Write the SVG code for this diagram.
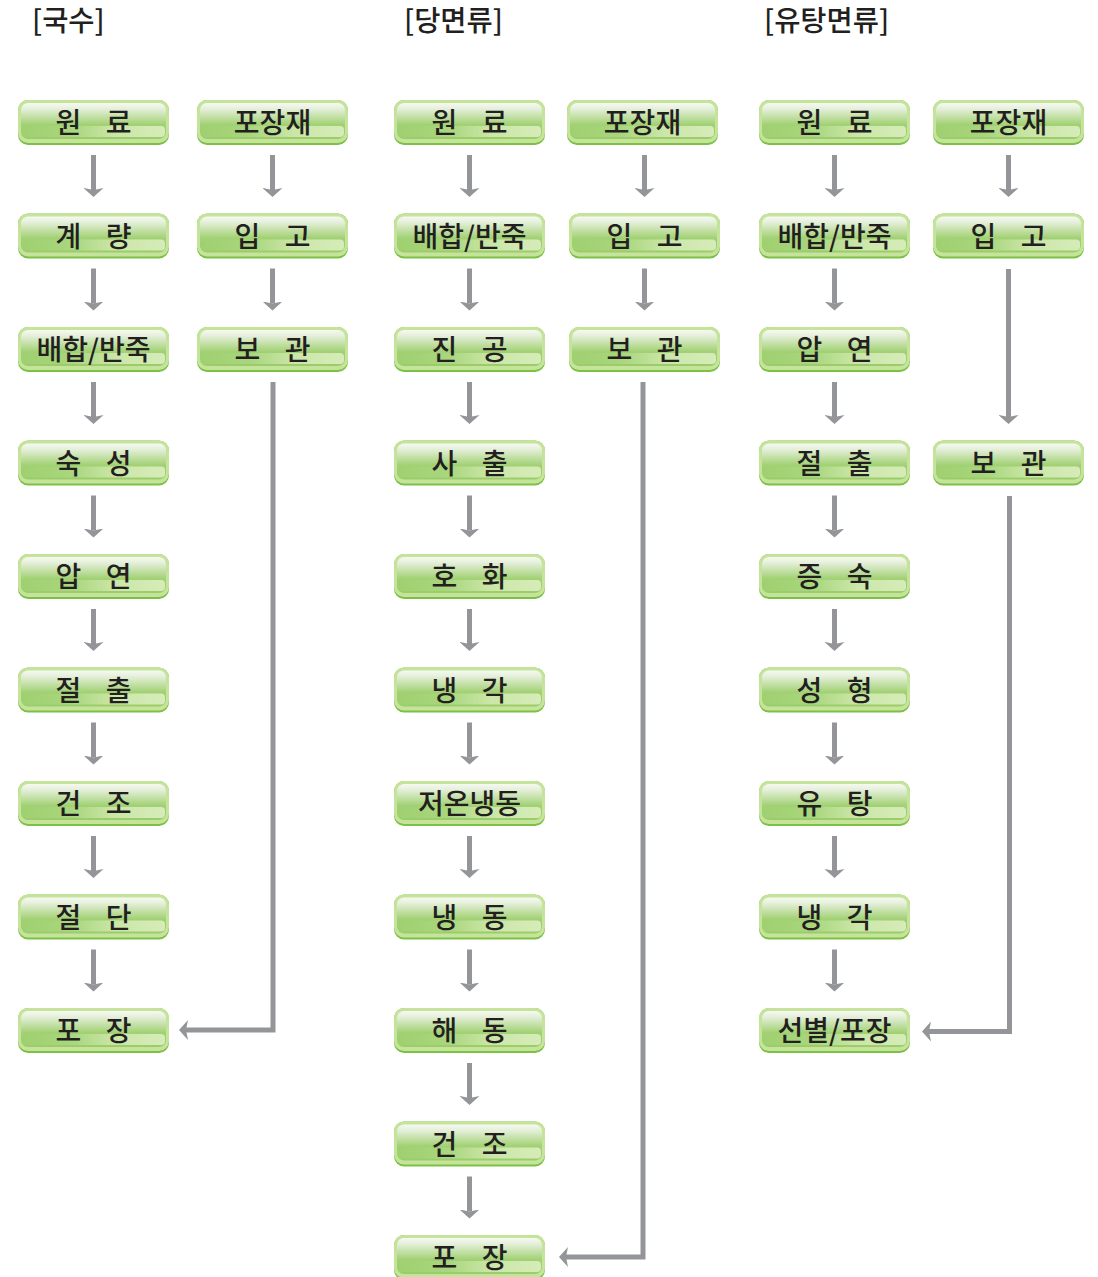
<svg xmlns="http://www.w3.org/2000/svg" width="1098" height="1277" viewBox="0 0 1098 1277">
<style>
.base{fill:#7bc143}
.rim{fill:#c6e39b}
.body{fill:url(#gv)}
.band{fill:url(#gh)}
.lbl{font-family:"Noto Sans CJK KR","Noto Sans",sans-serif;font-size:28px;font-weight:500;fill:#231f20;text-anchor:middle;word-spacing:18px}
.ttl{font-family:"Noto Sans CJK KR","Noto Sans",sans-serif;font-size:28.5px;font-weight:500;fill:#231f20}
.conn path{fill:none;stroke:#939598;stroke-width:5;marker-end:url(#ah)}
</style>
<defs>
<linearGradient id="gv" x1="0" y1="0" x2="0" y2="1">
<stop offset="0" stop-color="#f6f9f1"/>
<stop offset="0.15" stop-color="#e6f0dc"/>
<stop offset="0.6" stop-color="#a2d174"/>
<stop offset="1" stop-color="#9acd69"/>
</linearGradient>
<linearGradient id="gh" x1="0" y1="0" x2="1" y2="0">
<stop offset="0" stop-color="#9fd070"/>
<stop offset="0.35" stop-color="#a9d67e"/>
<stop offset="0.65" stop-color="#cbe6a8"/>
<stop offset="1" stop-color="#d6ecb9"/>
</linearGradient>
<marker id="ah" markerUnits="userSpaceOnUse" markerWidth="10" markerHeight="20" viewBox="0 0 10 20" refX="2" refY="10" orient="auto">
<path d="M0,0 L9,10 L0,20 L2,10 z" fill="#939598"/>
</marker>
<g id="nb">
<rect class="base" width="151" height="45" rx="10"/>
<rect class="rim" width="151" height="43" rx="10"/>
<rect class="body" x="3" y="3" width="145" height="36" rx="7"/>
<rect class="band" x="4" y="26" width="143" height="11" rx="4"/>
</g>
</defs>

<text class="ttl" x="32" y="31">[국수]</text>
<text class="ttl" x="404" y="31">[당면류]</text>
<text class="ttl" x="764" y="31">[유탕면류]</text>

<g class="conn">
<!-- col1 -->
<path d="M93.5,155 V190"/><path d="M93.5,268.5 V303.5"/><path d="M93.5,382 V417"/><path d="M93.5,495.5 V530.5"/><path d="M93.5,609 V644"/><path d="M93.5,722.5 V757.5"/><path d="M93.5,836 V871"/><path d="M93.5,949.5 V984.5"/>
<!-- col2 -->
<path d="M272.5,155 V190"/><path d="M272.5,268.5 V303.5"/>
<path d="M273,382 V1030 H186"/>
<!-- col3 -->
<path d="M469.5,155 V190"/><path d="M469.5,268.5 V303.5"/><path d="M469.5,382 V417"/><path d="M469.5,495.5 V530.5"/><path d="M469.5,609 V644"/><path d="M469.5,722.5 V757.5"/><path d="M469.5,836 V871"/><path d="M469.5,949.5 V984.5"/><path d="M469.5,1063 V1098"/><path d="M469.5,1176.5 V1211.5"/>
<!-- col4 -->
<path d="M644.5,155 V190"/><path d="M644.5,268.5 V303.5"/>
<path d="M643,382 V1257 H566"/>
<!-- col5 -->
<path d="M834.5,155 V190"/><path d="M834.5,268.5 V303.5"/><path d="M834.5,382 V417"/><path d="M834.5,495.5 V530.5"/><path d="M834.5,609 V644"/><path d="M834.5,722.5 V757.5"/><path d="M834.5,836 V871"/><path d="M834.5,949.5 V984.5"/>
<!-- col6 -->
<path d="M1008.5,155 V190"/><path d="M1008.5,269 V417"/>
<path d="M1009.5,496 V1031.5 H929"/>
</g>

<!-- column 1 -->
<g id="c1r0" transform="translate(18,100)"><use href="#nb"/><text class="lbl" x="75.5" y="33">원 료</text></g>
<g id="c1r1" transform="translate(18,213.5)"><use href="#nb"/><text class="lbl" x="75.5" y="33">계 량</text></g>
<g id="c1r2" transform="translate(18,327)"><use href="#nb"/><text class="lbl" x="75.5" y="33">배합/반죽</text></g>
<g id="c1r3" transform="translate(18,440.5)"><use href="#nb"/><text class="lbl" x="75.5" y="33">숙 성</text></g>
<g id="c1r4" transform="translate(18,554)"><use href="#nb"/><text class="lbl" x="75.5" y="33">압 연</text></g>
<g id="c1r5" transform="translate(18,667.5)"><use href="#nb"/><text class="lbl" x="75.5" y="33">절 출</text></g>
<g id="c1r6" transform="translate(18,781)"><use href="#nb"/><text class="lbl" x="75.5" y="33">건 조</text></g>
<g id="c1r7" transform="translate(18,894.5)"><use href="#nb"/><text class="lbl" x="75.5" y="33">절 단</text></g>
<g id="c1r8" transform="translate(18,1008)"><use href="#nb"/><text class="lbl" x="75.5" y="33">포 장</text></g>

<!-- column 2 -->
<g id="c2r0" transform="translate(197,100)"><use href="#nb"/><text class="lbl" x="75.5" y="33">포장재</text></g>
<g id="c2r1" transform="translate(197,213.5)"><use href="#nb"/><text class="lbl" x="75.5" y="33">입 고</text></g>
<g id="c2r2" transform="translate(197,327)"><use href="#nb"/><text class="lbl" x="75.5" y="33">보 관</text></g>

<!-- column 3 -->
<g id="c3r0" transform="translate(394,100)"><use href="#nb"/><text class="lbl" x="75.5" y="33">원 료</text></g>
<g id="c3r1" transform="translate(394,213.5)"><use href="#nb"/><text class="lbl" x="75.5" y="33">배합/반죽</text></g>
<g id="c3r2" transform="translate(394,327)"><use href="#nb"/><text class="lbl" x="75.5" y="33">진 공</text></g>
<g id="c3r3" transform="translate(394,440.5)"><use href="#nb"/><text class="lbl" x="75.5" y="33">사 출</text></g>
<g id="c3r4" transform="translate(394,554)"><use href="#nb"/><text class="lbl" x="75.5" y="33">호 화</text></g>
<g id="c3r5" transform="translate(394,667.5)"><use href="#nb"/><text class="lbl" x="75.5" y="33">냉 각</text></g>
<g id="c3r6" transform="translate(394,781)"><use href="#nb"/><text class="lbl" x="75.5" y="33">저온냉동</text></g>
<g id="c3r7" transform="translate(394,894.5)"><use href="#nb"/><text class="lbl" x="75.5" y="33">냉 동</text></g>
<g id="c3r8" transform="translate(394,1008)"><use href="#nb"/><text class="lbl" x="75.5" y="33">해 동</text></g>
<g id="c3r9" transform="translate(394,1121.5)"><use href="#nb"/><text class="lbl" x="75.5" y="33">건 조</text></g>
<g id="c3r10" transform="translate(394,1235)"><use href="#nb"/><text class="lbl" x="75.5" y="33">포 장</text></g>

<!-- column 4 -->
<g id="c4r0" transform="translate(567,100)"><use href="#nb"/><text class="lbl" x="75.5" y="33">포장재</text></g>
<g id="c4r1" transform="translate(569,213.5)"><use href="#nb"/><text class="lbl" x="75.5" y="33">입 고</text></g>
<g id="c4r2" transform="translate(569,327)"><use href="#nb"/><text class="lbl" x="75.5" y="33">보 관</text></g>

<!-- column 5 -->
<g id="c5r0" transform="translate(759,100)"><use href="#nb"/><text class="lbl" x="75.5" y="33">원 료</text></g>
<g id="c5r1" transform="translate(759,213.5)"><use href="#nb"/><text class="lbl" x="75.5" y="33">배합/반죽</text></g>
<g id="c5r2" transform="translate(759,327)"><use href="#nb"/><text class="lbl" x="75.5" y="33">압 연</text></g>
<g id="c5r3" transform="translate(759,440.5)"><use href="#nb"/><text class="lbl" x="75.5" y="33">절 출</text></g>
<g id="c5r4" transform="translate(759,554)"><use href="#nb"/><text class="lbl" x="75.5" y="33">증 숙</text></g>
<g id="c5r5" transform="translate(759,667.5)"><use href="#nb"/><text class="lbl" x="75.5" y="33">성 형</text></g>
<g id="c5r6" transform="translate(759,781)"><use href="#nb"/><text class="lbl" x="75.5" y="33">유 탕</text></g>
<g id="c5r7" transform="translate(759,894.5)"><use href="#nb"/><text class="lbl" x="75.5" y="33">냉 각</text></g>
<g id="c5r8" transform="translate(759,1008)"><use href="#nb"/><text class="lbl" x="75.5" y="33">선별/포장</text></g>

<!-- column 6 -->
<g id="c6r0" transform="translate(933,100)"><use href="#nb"/><text class="lbl" x="75.5" y="33">포장재</text></g>
<g id="c6r1" transform="translate(933,213.5)"><use href="#nb"/><text class="lbl" x="75.5" y="33">입 고</text></g>
<g id="c6r3" transform="translate(933,440.5)"><use href="#nb"/><text class="lbl" x="75.5" y="33">보 관</text></g>
</svg>
